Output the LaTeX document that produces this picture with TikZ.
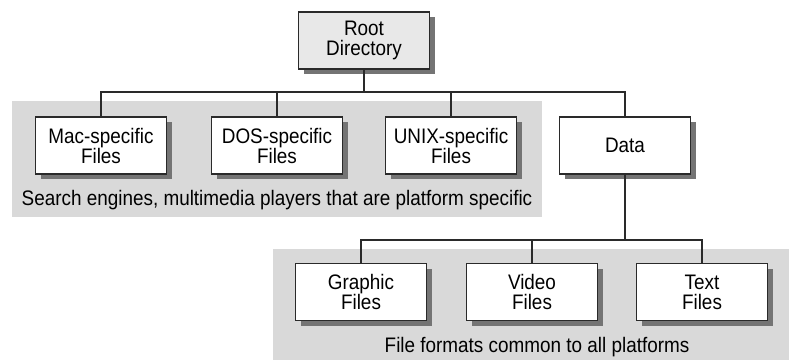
\documentclass[tikz,border=0pt]{standalone}
\usepackage{fontspec}
\setmainfont{Liberation Sans}[FakeStretch=0.9]
\usetikzlibrary{shadows}
\definecolor{band}{HTML}{D9D9D9}
\definecolor{rootfill}{HTML}{E8E8E8}
\definecolor{shadowc}{HTML}{747474}
\definecolor{linec}{HTML}{2A2A2A}
\tikzset{
  box/.style={draw=linec, line width=1.5pt, fill=white, minimum width=131pt, minimum height=57pt,
    inner sep=0pt, align=center, font=\fontsize{21}{20}\selectfont,
    drop shadow={shadow xshift=5pt, shadow yshift=-5pt, fill=shadowc, opacity=1}},
  conn/.style={draw=linec, line width=1.7pt},
  captext/.style={font=\fontsize{21}{20}\selectfont, inner sep=0pt}
}
\begin{document}
\begin{tikzpicture}[x=1pt,y=-1pt]
\useasboundingbox (0,0) rectangle (789,360);
% bands
\fill[band] (12,101) rectangle (542,217);
\fill[band] (273,249) rectangle (789,360);
% nodes
\node[box, fill=rootfill] (root) at (364,40.5) {Root\\Directory};
\node[box] (mac) at (101,145.5) {Mac-specific\\Files};
\node[box] (dos) at (277,145.5) {DOS-specific\\Files};
\node[box] (unix) at (451,145.5) {UNIX-specific\\Files};
\node[box] (data) at (625,145.5) {Data};
\node[box] (graph) at (361,292) {Graphic\\Files};
\node[box] (video) at (532,292) {Video\\Files};
\node[box] (text) at (702,292) {Text\\Files};
\node[captext] (cap1) at (277,200) {Search engines, multimedia players that are platform specific};
\node[captext] (cap2) at (537,347) {File formats common to all platforms};
% connectors
\coordinate (bus1) at (0,92);
\coordinate (bus2) at (0,240);
\draw[conn] (root.south) -- (root.south |- bus1);
\draw[conn] (mac.north) |- (data.north |- bus1) -- (data.north);
\draw[conn] (dos.north) -- (dos.north |- bus1);
\draw[conn] (unix.north) -- (unix.north |- bus1);
\draw[conn] (data.south) -- (data.south |- bus2);
\draw[conn] (graph.north) |- (text.north |- bus2) -- (text.north);
\draw[conn] (video.north) -- (video.north |- bus2);
\end{tikzpicture}
\end{document}
